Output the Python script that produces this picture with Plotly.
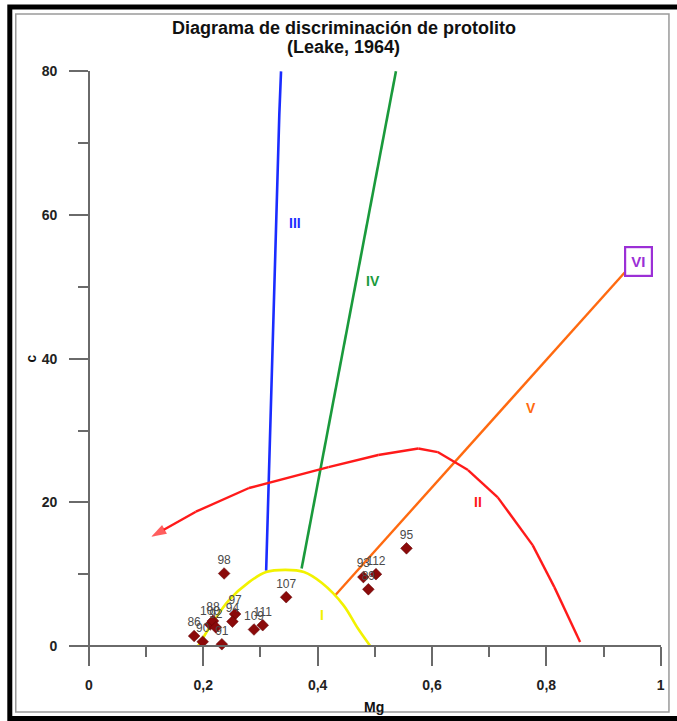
import plotly.graph_objects as go

# ---------------- data ----------------
sample_mg = [0.2365, 0.345, 0.2557, 0.251, 0.2887, 0.304, 0.2325, 0.184, 0.199, 0.212, 0.217, 0.222, 0.5554, 0.48, 0.502, 0.4887]
sample_c = [10.1, 6.8, 4.45, 3.4, 2.3, 2.9, 0.25, 1.4, 0.6, 3.0, 3.5, 2.6, 13.6, 9.6, 10.0, 7.9]
sample_id = ["98", "107", "97", "94", "109", "111", "91", "86", "90", "100", "88", "92", "95", "93", "112", "89"]

line3_mg = [0.310, 0.324, 0.333, 0.336]
line3_c = [10.5, 50.0, 74.0, 80.0]

line4_mg = [0.372, 0.537]
line4_c = [10.8, 80.0]

curve1_mg = [0.191, 0.216, 0.245, 0.280, 0.310, 0.344, 0.376, 0.407, 0.445, 0.470, 0.492]
curve1_c = [0.0, 3.2, 6.4, 8.9, 10.3, 10.6, 10.3, 8.8, 5.7, 2.5, 0.0]

# curve II, ordered from its lower end to the arrow tip
curve2_mg = [0.859, 0.814, 0.776, 0.715, 0.663, 0.610, 0.576, 0.506, 0.419, 0.297, 0.280, 0.187, 0.109]
curve2_c = [0.56, 8.2, 14.05, 20.7, 24.5, 27.0, 27.5, 26.6, 24.9, 22.4, 22.0, 18.7, 15.2]

line5_mg = [0.430, 0.937]
line5_c = [7.0, 52.0]

field_names = ["I", "II", "III", "IV", "V"]
field_mg = [0.407, 0.680, 0.360, 0.497, 0.774]
field_c = [4.3, 20.0, 58.9, 50.8, 33.1]
field_colors = ["#f2f200", "#ff1a1a", "#1a2cff", "#1a9a3c", "#ff6a10"]

vi_mg, vi_c = 0.962, 53.6

x_ticks = [0, 0.2, 0.4, 0.6, 0.8, 1]
y_ticks = [0, 20, 40, 60, 80]

# ---------------- layout geometry ----------------
W, H = 677, 721
L, R, T, B = 69, 13, 70.6, 56
XR = [-0.0348, 1.0005]
YR = [-2.64, 80.05]
axis_col = "#6a6a6a"
font_fam = "Liberation Sans, Arial, sans-serif"

fig = go.Figure()

fig.add_trace(go.Scatter(x=line3_mg, y=line3_c, mode="lines",
                         line=dict(color="#1a2cff", width=2.6), hoverinfo="skip"))
fig.add_trace(go.Scatter(x=line4_mg, y=line4_c, mode="lines",
                         line=dict(color="#1a9a3c", width=2.6), hoverinfo="skip"))
fig.add_trace(go.Scatter(x=line5_mg, y=line5_c, mode="lines",
                         line=dict(color="#ff6a10", width=2.4), hoverinfo="skip"))
fig.add_trace(go.Scatter(x=curve2_mg, y=curve2_c, mode="lines+markers",
                         line=dict(color="#ff1a1a", width=2.4),
                         marker=dict(symbol="arrow", angleref="previous",
                                     size=[0] * (len(curve2_mg) - 1) + [16],
                                     color="#ff1a1a", line=dict(width=0)),
                         hoverinfo="skip"))
fig.add_trace(go.Scatter(x=curve1_mg, y=curve1_c, mode="lines",
                         line=dict(color="#f2f200", width=2.6, shape="spline"), hoverinfo="skip"))

fig.add_trace(go.Scatter(x=sample_mg, y=sample_c, mode="markers+text",
                         text=sample_id, textposition="top center",
                         textfont=dict(family=font_fam, size=12, color="#4a4a4a"),
                         marker=dict(symbol="diamond", size=9, color="#8b0a0a",
                                     line=dict(color="#5a0000", width=0.5)),
                         hoverinfo="skip"))

for name, mx, cy, col in zip(field_names, field_mg, field_c, field_colors):
    fig.add_annotation(x=mx, y=cy, text=name, showarrow=False,
                       xanchor="center", yanchor="middle",
                       font=dict(family=font_fam, size=14, color=col, weight="bold"))

fig.add_annotation(x=vi_mg, y=vi_c, text="VI", showarrow=False,
                   xanchor="center", yanchor="middle",
                   font=dict(family=font_fam, size=15, color="#9b2fd6", weight="bold"),
                   bordercolor="#9b2fd6", borderwidth=2.2, borderpad=5, bgcolor="white")

xpos = (0 - YR[0]) / (YR[1] - YR[0])
ypos = (0 - XR[0]) / (XR[1] - XR[0])

tickfont = dict(family=font_fam, size=14, color="#222222", weight="bold")

fig.update_layout(
    width=W, height=H,
    margin=dict(l=L, r=R, t=T, b=B),
    paper_bgcolor="white", plot_bgcolor="white",
    showlegend=False,
    separators=", ",
    xaxis=dict(range=XR, anchor="free", position=xpos, showgrid=False, zeroline=False,
               showline=True, linecolor=axis_col, linewidth=1.5,
               tickmode="array", tickvals=x_ticks, ticks="outside", ticklen=19,
               tickwidth=1.5, tickcolor=axis_col, tickfont=tickfont,
               ticklabelstandoff=7,
               minor=dict(dtick=0.1, tick0=0, ticks="outside", ticklen=10,
                          tickwidth=1.5, tickcolor=axis_col, showgrid=False)),
    yaxis=dict(range=YR, anchor="free", position=ypos, showgrid=False, zeroline=False,
               showline=True, linecolor=axis_col, linewidth=1.5,
               tickmode="array", tickvals=y_ticks, ticks="outside", ticklen=19,
               tickwidth=1.5, tickcolor=axis_col, tickfont=tickfont,
               ticklabelstandoff=9,
               minor=dict(dtick=10, tick0=0, ticks="outside", ticklen=10,
                          tickwidth=1.5, tickcolor=axis_col, showgrid=False)),
)

PW, PH = W - L - R, H - T - B


def px2paper(px, py):
    return (px - L) / PW, (H - B - py) / PH


# title (two lines)
tx, ty1 = px2paper(345, 28)
_, ty2 = px2paper(345, 46.5)
title_font = dict(family=font_fam, size=18, color="#111111", weight="bold")
fig.add_annotation(x=tx, y=ty1, xref="paper", yref="paper", showarrow=False,
                   xanchor="center", yanchor="middle",
                   text="Diagrama de discriminación de protolito", font=title_font)
fig.add_annotation(x=tx, y=ty2, xref="paper", yref="paper", showarrow=False,
                   xanchor="center", yanchor="middle",
                   text="(Leake, 1964)", font=title_font)

# axis titles
mx, my = px2paper(376, 707)
fig.add_annotation(x=mx, y=my, xref="paper", yref="paper", text="Mg", showarrow=False,
                   xanchor="center", yanchor="middle",
                   font=dict(family=font_fam, size=14, color="#111111", weight="bold"))
cx, cy = px2paper(31, 358)
fig.add_annotation(x=cx, y=cy, xref="paper", yref="paper", text="c", showarrow=False,
                   textangle=-90, xanchor="center", yanchor="middle",
                   font=dict(family=font_fam, size=14, color="#111111", weight="bold"))

# decorative frame
x0, y0 = px2paper(9.5, 6.5)
x1, y1 = px2paper(690, 718.5)
fig.add_shape(type="rect", xref="paper", yref="paper", x0=x0, y0=y0, x1=x1, y1=y1,
              line=dict(color="#000000", width=5), layer="above")
x0, y0 = px2paper(15.5, 13.5)
x1, y1 = px2paper(672, 712)
fig.add_shape(type="rect", xref="paper", yref="paper", x0=x0, y0=y0, x1=x1, y1=y1,
              line=dict(color="#9a9a9a", width=1.5), layer="above")

fig.write_html("out.html")
